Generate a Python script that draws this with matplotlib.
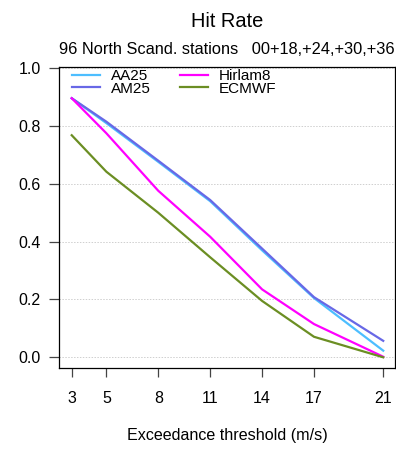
import matplotlib
matplotlib.use("Agg")
import matplotlib.pyplot as plt

plt.rcParams['font.family'] = ['Liberation Sans', 'DejaVu Sans']

thresholds = [3, 5, 8, 11, 14, 17, 21]
xtick_labels = ["3", "5", "8", "11", "14", "17", "21"]
yticks = [0.0, 0.2, 0.4, 0.6, 0.8, 1.0]

aa25 = [0.896, 0.810, 0.676, 0.540, 0.370, 0.205, 0.023]
am25 = [0.896, 0.815, 0.680, 0.544, 0.376, 0.208, 0.057]
hirlam8 = [0.896, 0.775, 0.576, 0.417, 0.235, 0.115, 0.002]
ecmwf = [0.768, 0.642, 0.500, 0.346, 0.195, 0.071, 0.0]

series = [("AA25", aa25, "#4DBEFF"),
          ("AM25", am25, "#6868E6"),
          ("Hirlam8", hirlam8, "#FF00FF"),
          ("ECMWF", ecmwf, "#6B8E23")]

fig = plt.figure(figsize=(3.96, 4.49), dpi=100)
ax = fig.add_axes([59/396, 1 - 368.3/449, (395 - 59)/396, (368.3 - 67)/449])

for y in yticks:
    ax.axhline(y, color="#CFCFCF", lw=0.7, ls=(0, (1.5, 1.5)), zorder=0)

for name, vals, col in series:
    ax.plot(thresholds, vals, color=col, lw=1.6, label=name, solid_joinstyle="round")

ax.set_xlim(2.265, 21.68)
ax.set_ylim(-0.038, 1.004)
ax.set_xticks(thresholds)
ax.set_xticklabels(xtick_labels)
ax.set_yticks(yticks)
ax.set_yticklabels([f"{v:.1f}" for v in yticks])

for s in ax.spines.values():
    s.set_linewidth(0.9)
    s.set_color("black")

ax.tick_params(axis="x", direction="out", length=6.5, width=0.9, color="#444444",
               labelsize=11.5, pad=10)
ax.tick_params(axis="y", direction="out", length=7, width=0.9, color="#444444",
               labelsize=11.5, pad=6)

ax.set_xlabel("Exceedance threshold (m/s)", fontsize=11.6, labelpad=16)

fig.text(227/396, 1 - 21.7/449, "Hit Rate", ha="center", va="center", fontsize=14.4)
fig.text(227/396, 1 - 49/449, "96 North Scand. stations   00+18,+24,+30,+36",
         ha="center", va="center", fontsize=11.8)

leg = ax.legend(loc="upper left", ncol=2, frameon=False, fontsize=11,
                bbox_to_anchor=(0.0387, 0.993), handlelength=1.83, handletextpad=0.72,
                columnspacing=1.9, labelspacing=-0.1, borderaxespad=0.0, borderpad=0.0)

fig.savefig("out.png", dpi=100)
